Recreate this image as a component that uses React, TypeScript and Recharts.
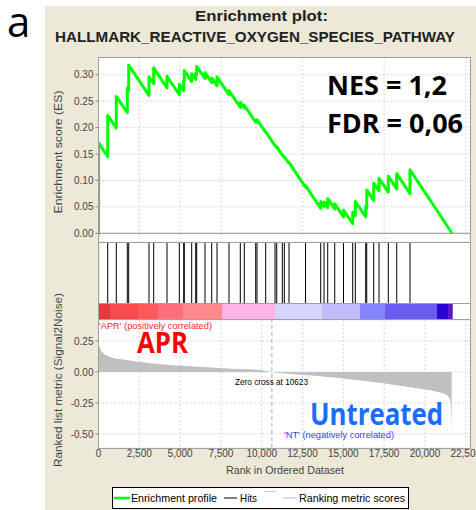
import React from 'react';
import {
  LineChart,
  Line,
  AreaChart,
  Area,
  XAxis,
  YAxis,
  CartesianGrid,
  ReferenceLine,
  ReferenceArea,
} from 'recharts';

// ---- data ----
const rankTicks = [0, 2500, 5000, 7500, 10000, 12500, 15000, 17500, 20000, 22500];
const esTicks = [0, 0.05, 0.1, 0.15, 0.2, 0.25, 0.3];
const metricTicks = [-0.5, -0.25, 0, 0.25];

// gene set hits (rank positions) and running ES just before / after each hit
const hitRanks = [
  5, 564, 1091, 1765, 1850, 3094, 3382, 4197, 4951, 5220, 5257, 5710, 5955, 6017, 6525,
  6936, 7261, 7996, 8688, 8933, 9632, 9711, 10244, 10814, 10918, 11261, 11384, 11672,
  12683, 13614, 13816, 14043, 14472, 15011, 15575, 15734, 16371, 16433, 16861, 17186,
  17756, 18271, 19085,
];
const esBeforeHit = [
  0, 0.145, 0.199, 0.228, 0.271, 0.261, 0.283, 0.275, 0.262, 0.27, 0.288, 0.287, 0.291,
  0.3, 0.293, 0.285, 0.279, 0.262, 0.238, 0.237, 0.21, 0.21, 0.191, 0.166, 0.162, 0.148,
  0.143, 0.132, 0.087, 0.047, 0.051, 0.0485, 0.046, 0.031, 0.018, 0.033, 0.031, 0.047,
  0.062, 0.08, 0.078, 0.084, 0.075,
];
const esAfterHit = [
  0.171, 0.223, 0.259, 0.275, 0.318, 0.296, 0.313, 0.297, 0.282, 0.29, 0.308, 0.302,
  0.303, 0.316, 0.304, 0.294, 0.296, 0.27, 0.248, 0.242, 0.214, 0.215, 0.192, 0.167,
  0.164, 0.149, 0.145, 0.134, 0.09, 0.06, 0.059, 0.066, 0.056, 0.044, 0.04, 0.06, 0.05,
  0.082, 0.095, 0.104, 0.108, 0.113, 0.12,
];
const esEndRank = 21660;

// ranked list metric (Signal2Noise)
const metricRanks = [
  0, 40, 120, 300, 705, 1501, 2543, 3566, 4565, 5606, 6630, 7628, 8670, 9895, 10623,
  11304, 13369, 15409, 17431, 19496, 20722, 21334, 21540, 21600, 21640,
];
const metricValues = [
  0.262, 0.22, 0.185, 0.15, 0.121, 0.1, 0.081, 0.067, 0.054, 0.046, 0.038, 0.03, 0.024,
  0.016, 0, -0.011, -0.032, -0.059, -0.091, -0.132, -0.159, -0.185, -0.226, -0.3, -0.51,
];
const zeroCross = 10623;

// colour bar band edges (ranks)
const bandEdges = [0, 705, 2420, 3646, 5177, 7567, 10814, 13694, 16022, 17554, 20740, 21414, 21702];
const bandColors = [
  '#e8383c', '#f94b4b', '#ff5a5a', '#ff6e7c', '#ff8a8e', '#ffb3e6',
  '#d4d4ff', '#c2baff', '#8585ff', '#6b5cf0', '#2c00d8', '#5a18c8',
];

// ---- rows for the charts ----
const esRows = [
  { rank: 0, es: 0 },
  ...hitRanks.flatMap((r, i) => [
    { rank: r, es: esBeforeHit[i] },
    { rank: r, es: esAfterHit[i] },
  ]),
  { rank: esEndRank, es: 0 },
];
const hitRows = hitRanks.map((r) => ({ rank: r, v: 0.5 }));
const metricRows = metricRanks.map((r, i) => ({ rank: r, m: metricValues[i] }));
const bandRows = bandEdges.map((r) => ({ rank: r, v: 0.5 }));

const W = 476;
const LEFT = 98.5;
const AXIS_W = 50;
const margin = { top: 0, right: 6, bottom: 0, left: LEFT - AXIS_W };
const X_DOMAIN: [number, number] = [0, 22760];
const FONT = '"Liberation Sans", Arial, sans-serif';
const BIG = '"Open Sans", "Liberation Sans", sans-serif';
const tick = { fontSize: 10, fill: '#444', fontFamily: FONT };
const grid = '#d6d6d6';
const border = '#a0a0a0';

const abs = (top: number): React.CSSProperties => ({ position: 'absolute', left: 0, top });

export default function App() {
  return (
    <div style={{ position: 'absolute', left: 0, top: 0, width: W, height: 510, background: '#fff', overflow: 'hidden' }}>
      <div style={{ position: 'absolute', left: 45, top: 6, width: W - 45, height: 504, background: '#ece9d8' }} />
      <div style={{ position: 'absolute', left: 98, top: 57, width: 373, height: 392, background: '#fff' }} />

      {/* enrichment score */}
      <div style={abs(57)}>
        <LineChart width={W} height={185} data={esRows} margin={margin}>
          <CartesianGrid stroke={grid} strokeDasharray="2 2" />
          <XAxis dataKey="rank" type="number" domain={X_DOMAIN} ticks={rankTicks} hide allowDataOverflow />
          <YAxis
            width={AXIS_W}
            domain={[-0.0165, 0.3335]}
            ticks={esTicks}
            tickFormatter={(v: number) => v.toFixed(2)}
            tick={tick}
            tickSize={3}
            tickMargin={2}
            axisLine={false}
            tickLine={{ stroke: '#888' }}
            allowDataOverflow
          />
          <ReferenceLine y={0} stroke="#8c8c8c" />
          <Line
            dataKey="es"
            type="linear"
            stroke="#00ff00"
            strokeWidth={3}
            strokeLinejoin="round"
            dot={false}
            isAnimationActive={false}
          />
        </LineChart>
      </div>

      {/* hits */}
      <div style={abs(242)}>
        <LineChart width={W} height={61} data={hitRows} margin={margin}>
          <XAxis dataKey="rank" type="number" domain={X_DOMAIN} hide allowDataOverflow />
          <YAxis width={AXIS_W} domain={[0, 1]} tick={false} axisLine={false} tickLine={false} />
          <Line dataKey="v" stroke="none" dot={false} isAnimationActive={false} />
          {hitRanks.map((r) => (
            <ReferenceLine key={r} x={r} stroke="#000" strokeWidth={1} />
          ))}
        </LineChart>
      </div>

      {/* colour bar */}
      <div style={abs(303)}>
        <LineChart width={W} height={17} data={bandRows} margin={margin}>
          <XAxis dataKey="rank" type="number" domain={X_DOMAIN} hide allowDataOverflow />
          <YAxis width={AXIS_W} domain={[0, 1]} tick={false} axisLine={false} tickLine={false} />
          <Line dataKey="v" stroke="none" dot={false} isAnimationActive={false} />
          {bandColors.map((c, i) => (
            <ReferenceArea key={i} x1={bandEdges[i]} x2={bandEdges[i + 1]} fill={c} fillOpacity={1} stroke="none" />
          ))}
        </LineChart>
      </div>

      {/* ranked list metric */}
      <div style={abs(320)}>
        <AreaChart width={W} height={150} data={metricRows} margin={margin}>
          <CartesianGrid stroke={grid} strokeDasharray="2 2" />
          <XAxis
            dataKey="rank"
            type="number"
            domain={X_DOMAIN}
            ticks={rankTicks}
            interval={0}
            tickFormatter={(v: number) => v.toLocaleString('en-US')}
            tick={tick}
            tickSize={2}
            tickMargin={0}
            axisLine={false}
            tickLine={{ stroke: '#888' }}
            height={22}
            allowDataOverflow
          />
          <YAxis
            width={AXIS_W}
            domain={[-0.613, 0.419]}
            ticks={metricTicks}
            tickFormatter={(v: number) => v.toFixed(2)}
            tick={tick}
            tickSize={3}
            tickMargin={2}
            axisLine={false}
            tickLine={{ stroke: '#888' }}
            allowDataOverflow
          />
          <Area
            dataKey="m"
            type="monotone"
            stroke="none"
            fill="#c0c0c0"
            fillOpacity={1}
            baseValue={0}
            isAnimationActive={false}
          />
          <ReferenceLine x={zeroCross} stroke="#a8a8a8" strokeDasharray="4 3" />
        </AreaChart>
      </div>

      {/* plot borders */}
      <div style={{ position: 'absolute', left: 98, top: 57, width: 373, height: 392, border: `1px solid ${border}`, boxSizing: 'border-box' }} />
      {[242, 303, 319].map((y) => (
        <div key={y} style={{ position: 'absolute', left: 98, top: y, width: 373, height: 1, background: border }} />
      ))}

      <svg width={W} height={510} style={{ position: 'absolute', left: 0, top: 0, pointerEvents: 'none' }}>
        <text x={7} y={37} fontFamily={BIG} fontSize={42} fill="#000">a</text>

        <text x={195} y={21} fontFamily={FONT} fontWeight="bold" fontSize={15} fill="#222" textLength={133} lengthAdjust="spacingAndGlyphs">Enrichment plot:</text>
        <text x={55} y={42} fontFamily={FONT} fontWeight="bold" fontSize={15} fill="#222" textLength={400} lengthAdjust="spacingAndGlyphs">HALLMARK_REACTIVE_OXYGEN_SPECIES_PATHWAY</text>

        <text x={0} y={0} transform="translate(62 152) rotate(-90)" textAnchor="middle" fontFamily={FONT} fontSize={11} fill="#444" textLength={123} lengthAdjust="spacingAndGlyphs">Enrichment score (ES)</text>
        <text x={0} y={0} transform="translate(62 380) rotate(-90)" textAnchor="middle" fontFamily={FONT} fontSize={11} fill="#444" textLength={174} lengthAdjust="spacingAndGlyphs">Ranked list metric (Signal2Noise)</text>
        <text x={226} y={474} fontFamily={FONT} fontSize={11} fill="#444" textLength={118} lengthAdjust="spacingAndGlyphs">Rank in Ordered Dataset</text>

        <text x={327} y={95} fontFamily={BIG} fontWeight="bold" fontSize={27} fill="#000" textLength={120} lengthAdjust="spacingAndGlyphs">NES = 1,2</text>
        <text x={327} y={133} fontFamily={BIG} fontWeight="bold" fontSize={27} fill="#000" textLength={136} lengthAdjust="spacingAndGlyphs">FDR = 0,06</text>

        <text x={99} y={329} fontFamily={FONT} fontSize={9.5} fill="#ff2a2a" textLength={113} lengthAdjust="spacingAndGlyphs">'APR' (positively correlated)</text>
        <text x={137} y={353} fontFamily={BIG} fontWeight="bold" fontSize={28} fill="#ff0000" textLength={51} lengthAdjust="spacingAndGlyphs">APR</text>
        <text x={235} y={385} fontFamily={FONT} fontSize={9.5} fill="#000" textLength={73} lengthAdjust="spacingAndGlyphs">Zero cross at 10623</text>
        <text x={310} y={425} fontFamily={BIG} fontWeight="bold" fontSize={30} fill="#1a6cff" textLength={133} lengthAdjust="spacingAndGlyphs">Untreated</text>
        <text x={284} y={438} fontFamily={FONT} fontSize={9.5} fill="#3d3dff" textLength={110} lengthAdjust="spacingAndGlyphs">'NT' (negatively correlated)</text>

        {/* legend */}
        <rect x={112.5} y={487.5} width={296} height={21} fill="#fff" stroke="#000" />
        <line x1={114} x2={130} y1={498} y2={498} stroke="#00ff00" strokeWidth={2.5} />
        <text x={131} y={502} fontFamily={FONT} fontSize={11} fill="#000" textLength={86} lengthAdjust="spacingAndGlyphs">Enrichment profile</text>
        <line x1={224} x2={237} y1={498} y2={498} stroke="#000" strokeWidth={1} />
        <text x={240} y={502} fontFamily={FONT} fontSize={11} fill="#000" textLength={17} lengthAdjust="spacingAndGlyphs">Hits</text>
        <line x1={264} x2={276} y1={491.5} y2={491.5} stroke="#c8c8c8" strokeWidth={1} />
        <line x1={283} x2={297} y1={498} y2={498} stroke="#bdbdbd" strokeWidth={1} />
        <text x={299} y={502} fontFamily={FONT} fontSize={11} fill="#000" textLength={106} lengthAdjust="spacingAndGlyphs">Ranking metric scores</text>
      </svg>
    </div>
  );
}
